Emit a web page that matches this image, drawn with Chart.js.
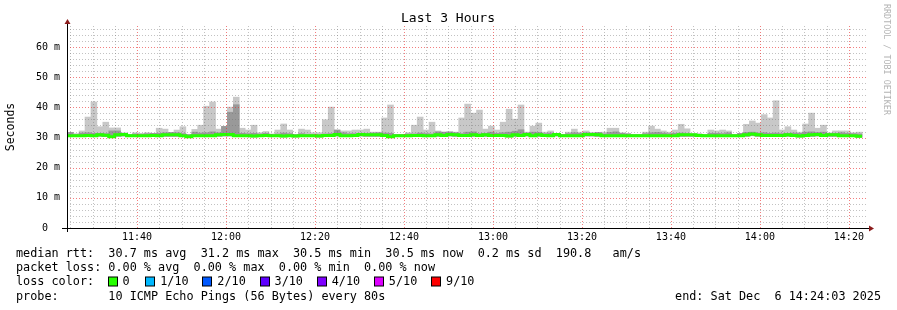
<!DOCTYPE html>
<html>
<head>
<meta charset="utf-8">
<script src="https://cdn.jsdelivr.net/npm/chart.js@4.4.1/dist/chart.umd.min.js"></script>
<style>
  html, body { margin: 0; padding: 0; background: #fff; }
</style>
</head>
<body>
<canvas id="smoke" width="897" height="310"></canvas>
<script>
// one smokeping round every 80 s, times are minutes after midnight
const stepMin = 80 / 60;
const firstStart = 684.3;

const hourTicks = ['11:40', '12:00', '12:20', '12:40', '13:00', '13:20', '13:40', '14:00', '14:20'];
const firstHourTick = 700;

// slowest ping of each round (ms)
const maxRtt = [
  31.6, 31.0, 32.2, 36.8, 41.8, 33.6, 35.1, 33.2, 33.2, 31.3,
  30.9, 31.6, 31.4, 31.6, 31.4, 33.1, 32.8, 31.6, 32.5, 33.6,
  31.0, 32.7, 34.1, 40.4, 41.8, 32.8, 33.7, 40.1, 43.4, 33.1,
  32.5, 34.1, 31.6, 32.0, 31.2, 32.5, 34.5, 32.5, 31.0, 32.8,
  32.5, 31.6, 31.6, 35.9, 40.1, 32.5, 32.2, 32.2, 32.5, 32.5,
  32.8, 31.8, 31.8, 36.5, 40.8, 31.0, 31.0, 31.6, 34.1, 36.8,
  32.5, 35.1, 32.2, 31.8, 31.8, 31.8, 36.5, 41.1, 38.1, 39.1,
  32.8, 33.8, 32.5, 35.1, 39.4, 36.1, 40.8, 31.8, 33.8, 34.8,
  31.8, 32.2, 31.4, 31.0, 31.8, 32.8, 31.8, 32.2, 31.6, 31.6,
  31.8, 33.1, 33.1, 31.6, 31.4, 31.0, 31.0, 31.8, 33.8, 32.8,
  32.2, 31.8, 32.5, 34.4, 32.9, 31.3, 31.3, 31.0, 32.5, 32.2,
  32.5, 32.2, 31.0, 31.4, 34.4, 35.5, 34.8, 37.6, 36.5, 42.2,
  32.5, 33.6, 32.5, 31.8, 34.5, 38.1, 33.1, 34.1, 31.0, 32.2,
  32.2, 32.2, 31.6, 31.8
];

// top of the denser inner smoke (ms)
const midRtt = [
  31.7, 31.2, 31.5, 31.6, 31.4, 31.4, 31.3, 32.2, 32.2, 31.5,
  31.0, 31.2, 31.1, 31.3, 31.4, 31.4, 31.6, 31.7, 31.6, 31.3,
  31.0, 31.8, 31.5, 31.6, 31.9, 31.6, 33.7, 38.4, 40.9, 31.4,
  31.3, 31.4, 31.2, 31.4, 31.0, 31.2, 31.5, 31.3, 31.0, 31.3,
  31.1, 31.0, 31.0, 31.2, 31.3, 32.5, 31.6, 31.3, 31.3, 31.3,
  31.4, 31.5, 31.6, 31.5, 31.4, 31.0, 31.0, 31.2, 31.2, 31.5,
  31.3, 31.2, 31.9, 31.8, 31.9, 31.6, 31.3, 31.8, 31.9, 31.3,
  31.4, 31.8, 31.4, 31.6, 31.8, 32.1, 32.6, 31.5, 31.8, 31.7,
  31.3, 31.5, 31.3, 31.0, 31.3, 31.6, 31.4, 31.6, 31.5, 31.7,
  31.2, 31.7, 31.9, 31.4, 31.2, 31.0, 31.0, 31.3, 31.6, 31.7,
  31.5, 31.3, 31.4, 31.5, 31.3, 31.1, 31.1, 31.0, 31.4, 31.4,
  31.3, 31.6, 31.0, 31.4, 31.7, 31.8, 31.5, 31.6, 31.4, 31.5,
  31.3, 31.4, 31.5, 31.4, 31.8, 31.9, 31.7, 31.8, 31.5, 31.4,
  31.6, 31.4, 31.3, 31.2
];

// fastest ping of each round (ms)
const minRtt = [
  30.3, 30.3, 30.3, 30.4, 30.3, 30.4, 30.3, 30.1, 30.4, 30.5,
  30.3, 30.3, 30.3, 30.3, 30.4, 30.3, 30.4, 30.4, 30.4, 30.3,
  30.1, 30.3, 30.3, 30.3, 30.3, 30.4, 30.5, 30.5, 30.3, 30.3,
  30.3, 30.2, 30.3, 30.4, 30.3, 30.3, 30.2, 30.3, 30.2, 30.3,
  30.3, 30.3, 30.2, 30.4, 30.4, 30.5, 30.3, 30.3, 30.4, 30.5,
  30.4, 30.4, 30.4, 30.4, 30.1, 30.3, 30.3, 30.3, 30.4, 30.4,
  30.3, 30.3, 30.4, 30.4, 30.5, 30.4, 30.4, 30.4, 30.4, 30.4,
  30.4, 30.4, 30.4, 30.4, 30.2, 30.4, 30.4, 30.5, 30.3, 30.4,
  30.4, 30.3, 30.5, 30.3, 30.3, 30.3, 30.3, 30.5, 30.5, 30.4,
  30.3, 30.3, 30.3, 30.3, 30.3, 30.3, 30.3, 30.3, 30.3, 30.3,
  30.3, 30.3, 30.3, 30.4, 30.4, 30.4, 30.4, 30.3, 30.3, 30.3,
  30.3, 30.3, 30.3, 30.3, 30.4, 30.6, 30.4, 30.4, 30.4, 30.4,
  30.4, 30.4, 30.4, 30.2, 30.4, 30.4, 30.5, 30.4, 30.4, 30.4,
  30.3, 30.3, 30.3, 30.1
];

// median rtt of each round (ms)
const medRtt = [
  30.6, 30.6, 30.6, 30.7, 30.6, 30.9, 30.8, 30.3, 30.9, 31.0,
  30.6, 30.6, 30.6, 30.6, 30.7, 30.6, 30.9, 30.9, 30.9, 30.6,
  30.3, 30.6, 30.6, 30.6, 30.6, 30.9, 31.0, 31.0, 30.6, 30.6,
  30.6, 30.5, 30.6, 30.7, 30.6, 30.6, 30.5, 30.6, 30.5, 30.6,
  30.6, 30.6, 30.5, 30.7, 30.7, 31.0, 30.6, 30.6, 30.7, 31.0,
  30.9, 30.9, 30.9, 30.7, 30.3, 30.6, 30.6, 30.6, 30.7, 30.7,
  30.6, 30.6, 30.9, 30.7, 31.0, 30.9, 30.7, 30.7, 30.9, 30.7,
  30.9, 30.7, 30.7, 30.7, 30.5, 30.9, 30.7, 31.0, 30.6, 30.9,
  30.7, 30.6, 31.0, 30.6, 30.6, 30.6, 30.6, 31.0, 31.0, 30.9,
  30.6, 30.6, 30.6, 30.6, 30.6, 30.6, 30.6, 30.6, 30.6, 30.6,
  30.6, 30.6, 30.6, 30.9, 30.9, 30.9, 30.7, 30.6, 30.6, 30.6,
  30.6, 30.6, 30.6, 30.6, 30.9, 31.2, 30.9, 30.7, 30.7, 30.7,
  30.7, 30.9, 30.7, 30.5, 30.7, 30.9, 31.0, 30.7, 30.9, 30.9,
  30.6, 30.6, 30.6, 30.4
];

const lossColors = ['#26ff00', '#00b8ff', '#0059ff', '#5e00ff', '#7e00ff', '#dd00ff', '#ff0000'];
const lossLabels = ['0', '1/10', '2/10', '3/10', '4/10', '5/10', '9/10'];

const mono = "'DejaVu Sans Mono', monospace";
Chart.defaults.font.family = mono;
Chart.defaults.color = '#000';

const starts = maxRtt.map((_, i) => firstStart + stepMin * i);
const centres = starts.map(t => t + stepMin / 2);

const outerSmoke = centres.map((x, i) => ({ x: x, y: [minRtt[i], maxRtt[i]] }));
const innerSmoke = centres.map((x, i) => ({ x: x, y: [minRtt[i], midRtt[i]] }));
const medianLine = starts.map((x, i) => ({ x: x, y: medRtt[i] }));
medianLine.push({ x: firstStart + stepMin * medRtt.length, y: medRtt[medRtt.length - 1] });

const gridGrey = 'rgba(110,110,110,0.42)';
const gridRed = 'rgba(235,40,40,0.6)';

// dotted rrdtool style grid, laid on the scales' own ticks, drawn over the smoke
const dottedGrid = {
    id: 'dottedGrid',
    afterDatasetsDraw(chart) {
        const ctx = chart.ctx;
        const a = chart.chartArea;
        const xs = chart.scales.x, ys = chart.scales.y;
        ctx.save();
        ctx.lineWidth = 1;
        ctx.setLineDash([1, 2]);
        const pass = major => {
            ctx.strokeStyle = major ? gridRed : gridGrey;
            ctx.beginPath();
            xs.ticks.forEach(t => {
                if (((t.value - firstHourTick) % 20 === 0) !== major) return;
                const px = Math.round(xs.getPixelForValue(t.value)) + 0.5;
                ctx.moveTo(px, a.bottom);
                ctx.lineTo(px, a.top);
            });
            ys.ticks.forEach(t => {
                if ((t.value % 10 === 0) !== major || t.value === 0) return;
                const py = Math.round(ys.getPixelForValue(t.value)) + 0.5;
                ctx.moveTo(a.left, py);
                ctx.lineTo(a.right, py);
            });
            ctx.stroke();
        };
        pass(false);
        pass(true);
        ctx.restore();
    }
};

// title, axes with arrows, legend lines under the plot
const decorations = {
    id: 'decorations',
    afterDraw(chart) {
        const ctx = chart.ctx;
        const area = chart.chartArea;
        ctx.save();

        // axes
        ctx.strokeStyle = '#000';
        ctx.lineWidth = 1;
        ctx.beginPath();
        ctx.moveTo(62, area.bottom + 0.5);
        ctx.lineTo(area.right + 2, area.bottom + 0.5);
        ctx.moveTo(area.left + 0.5, area.bottom + 4);
        ctx.lineTo(area.left + 0.5, area.top - 3);
        ctx.stroke();
        ctx.fillStyle = '#8b1c1c';
        ctx.beginPath();
        ctx.moveTo(area.right + 6, area.bottom + 0.5);
        ctx.lineTo(area.right + 1, area.bottom - 2.5);
        ctx.lineTo(area.right + 1, area.bottom + 3.5);
        ctx.closePath();
        ctx.fill();
        ctx.beginPath();
        ctx.moveTo(area.left + 0.5, area.top - 7);
        ctx.lineTo(area.left - 2.5, area.top - 2);
        ctx.lineTo(area.left + 3.5, area.top - 2);
        ctx.closePath();
        ctx.fill();

        // title
        ctx.fillStyle = '#000';
        ctx.font = '13px ' + mono;
        ctx.textAlign = 'center';
        ctx.textBaseline = 'middle';
        ctx.fillText('Last 3 Hours', 448, 19);

        // watermark
        ctx.save();
        ctx.translate(886, 4);
        ctx.rotate(Math.PI / 2);
        ctx.font = '8.4px ' + mono;
        ctx.fillStyle = '#b4b4b4';
        ctx.textAlign = 'left';
        ctx.fillText('RRDTOOL / TOBI OETIKER', 0, 0);
        ctx.restore();

        // legend
        ctx.font = '11.8px ' + mono;
        ctx.textAlign = 'left';
        ctx.fillStyle = '#000';
        const cw = ctx.measureText('0').width;
        const x0 = 16;
        ctx.fillText('median rtt:  30.7 ms avg  31.2 ms max  30.5 ms min  30.5 ms now  0.2 ms sd  190.8   am/s', x0, 254);
        ctx.fillText('packet loss: 0.00 % avg  0.00 % max  0.00 % min  0.00 % now', x0, 268.3);
        ctx.fillText('loss color:', x0, 282.3);
        lossLabels.forEach((lab, k) => {
            const pos = k === 0 ? 12.9 : 18.2 + 8.05 * (k - 1);
            const sx = Math.round(x0 + pos * cw) + 0.5;
            ctx.fillStyle = lossColors[k];
            ctx.fillRect(sx, 277, 9, 9);
            ctx.strokeStyle = '#000';
            ctx.strokeRect(sx, 277, 9, 9);
            ctx.fillStyle = '#000';
            ctx.fillText(lab, x0 + (pos + 2.1) * cw, 282.3);
        });
        ctx.fillText('probe:       10 ICMP Echo Pings (56 Bytes) every 80s', x0, 296.7);
        ctx.textAlign = 'right';
        ctx.fillText('end: Sat Dec  6 14:24:03 2025', 881, 296.7);
        ctx.restore();
    }
};

new Chart(document.getElementById('smoke'), {
    type: 'bar',
    data: {
        datasets: [
            {
                type: 'line',
                label: 'median rtt',
                data: medianLine,
                borderColor: lossColors[0],
                borderWidth: 3,
                stepped: true,
                pointRadius: 0,
                order: 0
            },
            {
                label: 'inner smoke',
                data: innerSmoke,
                backgroundColor: '#999999',
                order: 1
            },
            {
                label: 'outer smoke',
                data: outerSmoke,
                backgroundColor: '#c8c8c8',
                order: 2
            }
        ]
    },
    options: {
        responsive: false,
        animation: false,
        layout: { padding: { top: 26, right: 29, left: 0, bottom: 0 } },
        datasets: {
            bar: { grouped: false, barPercentage: 1, categoryPercentage: 1, borderWidth: 0 }
        },
        plugins: { legend: { display: false }, tooltip: { enabled: false } },
        scales: {
            x: {
                type: 'linear',
                offset: false,
                min: 684.25,
                max: 864.3,
                ticks: {
                    stepSize: 5,
                    includeBounds: false,
                    autoSkip: false,
                    maxRotation: 0,
                    padding: 3,
                    font: { size: 10 },
                    callback: v => {
                        const k = (v - firstHourTick) / 20;
                        return Number.isInteger(k) && k >= 0 ? hourTicks[k] : '';
                    }
                },
                grid: { display: false, drawTicks: false },
                border: { display: false },
                afterFit: s => { s.height = 82; }
            },
            y: {
                min: 0,
                max: 67,
                ticks: {
                    stepSize: 2,
                    includeBounds: false,
                    autoSkip: false,
                    padding: 7,
                    font: { size: 10 },
                    callback: v => (v % 10 === 0 ? (v === 0 ? '0  ' : v + ' m') : '')
                },
                grid: { display: false, drawTicks: false },
                border: { display: false },
                title: { display: true, text: 'Seconds', font: { size: 11.5 }, padding: { top: 4, bottom: 4 } },
                afterFit: s => { s.width = 67; }
            }
        }
    },
    plugins: [dottedGrid, decorations]
});
</script>
</body>
</html>
